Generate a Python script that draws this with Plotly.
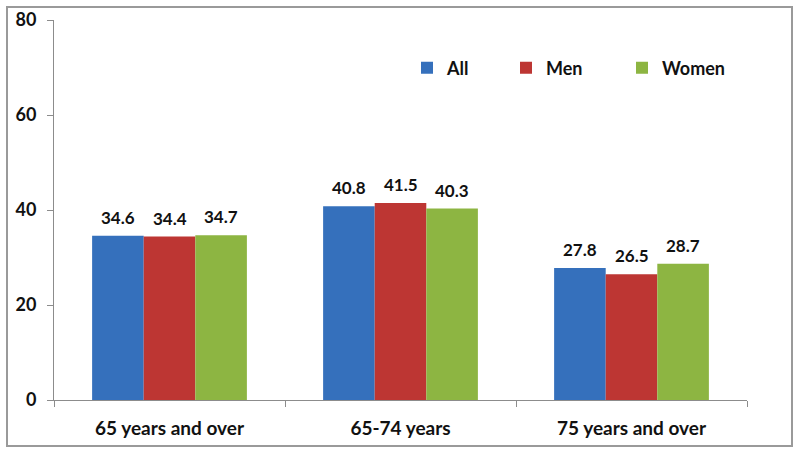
import plotly.graph_objects as go

categories = ["65 years and over", "65-74 years", "75 years and over"]
series_names = ["All", "Men", "Women"]
all_vals = [34.6, 40.8, 27.8]
men_vals = [34.4, 41.5, 26.5]
women_vals = [34.7, 40.3, 28.7]
y_ticks = [0, 20, 40, 60, 80]

colors = ["#3570BC", "#BD3633", "#8DB542"]
FONT = "Lato"

# plot geometry (pixels)
L, R, T, B = 54, 53, 20, 54
W = 800 - L - R
H = 454 - T - B
BARGAP = 0.33
cat_px = W / len(categories)
bar_px = cat_px * (1 - BARGAP) / len(series_names)

legend_left_px = [407, 506, 622]
legend_y = (H + T - 68) / H

fig = go.Figure()
series_vals = [all_vals, men_vals, women_vals]
for i, (name, vals, col) in enumerate(zip(series_names, series_vals, colors)):
    lg = "legend" if i == 0 else f"legend{i + 1}"
    fig.add_trace(go.Bar(
        name=name, x=categories, y=vals,
        marker=dict(color=col, line=dict(width=0)),
        legend=lg,
    ))
    for c, v in zip(categories, vals):
        fig.add_annotation(
            x=c, y=v, xref="x", yref="y",
            text=f"{v:.1f}", showarrow=False,
            xanchor="center", yanchor="bottom",
            xshift=(i - 1) * bar_px, yshift=6,
            font=dict(family=FONT, size=17, color="#111111", weight="bold"),
        )

legend_common = dict(
    orientation="h", yanchor="middle", xanchor="left",
    font=dict(family=FONT, size=18, color="#111111", weight="bold"),
    bgcolor="rgba(0,0,0,0)", itemwidth=30,
)
legends = {}
for i, px in enumerate(legend_left_px):
    key = "legend" if i == 0 else f"legend{i + 1}"
    legends[key] = dict(legend_common, x=(px - L) / W, y=legend_y)

fig.update_layout(
    width=800, height=454,
    margin=dict(l=L, r=R, t=T, b=B, autoexpand=False),
    paper_bgcolor="white", plot_bgcolor="white",
    barmode="group", bargap=BARGAP, bargroupgap=0,
    font=dict(family=FONT, color="#111111"),
    showlegend=True,
    **legends,
    xaxis=dict(
        automargin=False,
        showline=True, linecolor="#8c8c8c", linewidth=1,
        ticks="outside", ticklen=6, tickcolor="#8c8c8c", tickson="boundaries",
        tickfont=dict(family=FONT, size=19, color="#111111", weight="bold"),
        ticklabelstandoff=11,
        showgrid=False, zeroline=False,
    ),
    yaxis=dict(
        automargin=False,
        range=[0, 80], tickvals=y_ticks,
        showline=True, linecolor="#8c8c8c", linewidth=1,
        ticks="outside", ticklen=6, tickcolor="#8c8c8c",
        tickfont=dict(family=FONT, size=18, color="#111111", weight="bold"),
        ticklabelstandoff=7,
        showgrid=False, zeroline=False,
    ),
    shapes=[dict(
        type="rect", xref="paper", yref="paper",
        x0=(7 - L) / W, x1=(792 - L) / W,
        y0=(H + T - 446) / H, y1=(H + T - 7) / H,
        line=dict(color="#9a9a9a", width=2), fillcolor="rgba(0,0,0,0)",
        layer="below",
    )],
)

fig.write_html(
    "out.html",
    config={"displayModeBar": False},
    post_script="document.body.style.margin='0';document.body.style.overflow='hidden';",
)
